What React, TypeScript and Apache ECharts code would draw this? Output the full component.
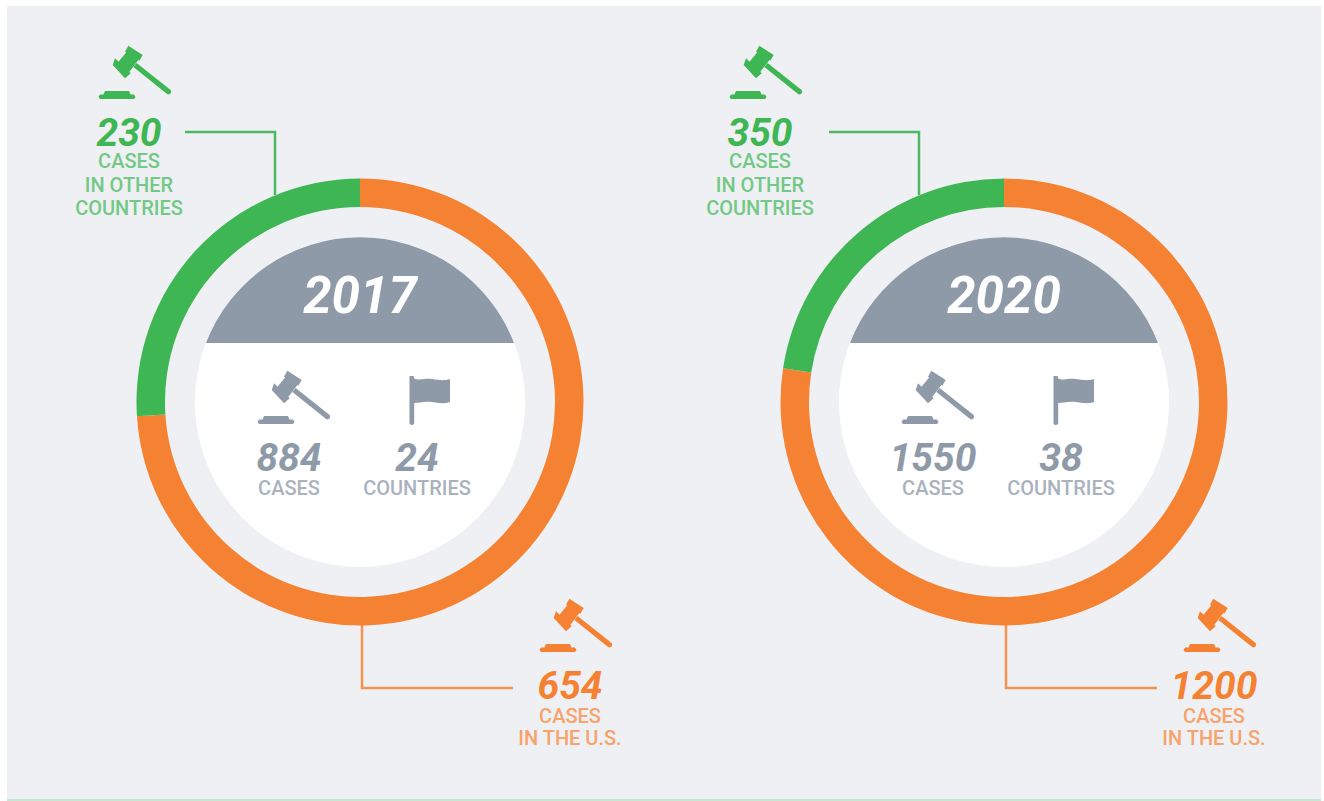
import React, { useEffect, useRef } from "react";
import * as echarts from "echarts";

const years = ["2017", "2020"];
const usCases = [654, 1200];
const otherCases = [230, 350];
const totalCases = [884, 1550];
const countries = [24, 38];
const seriesNames = ["Cases in the U.S.", "Cases in other countries"];
const otherLabelLines = ["CASES", "IN OTHER", "COUNTRIES"];
const usLabelLines = ["CASES", "IN THE U.S."];
const totalCaseLabel = "CASES";
const countriesLabel = "COUNTRIES";

const GREEN = "#3fb654";
const GREEN_LIGHT = "#72c985";
const GREEN_LINE = "#4db964";
const ORANGE = "#f58233";
const ORANGE_LIGHT = "#f6a36c";
const ORANGE_LINE = "#f6924f";
const GREY = "#8e9aa8";
const GREY_LIGHT = "#a9b2bd";
const PANEL = "#eff0f3";
const FONT = "Roboto, sans-serif";

const GAVEL =
  "M30.3 0.7 L44.7 10 L41.3 15.7 L27 6.7 Z " +
  "M28.7 6.7 L40.3 15 L30.3 28.3 L19.3 18.3 Z " +
  "M17 13.3 L32.7 28.3 L27 33.3 L14.7 20 Z " +
  "M38.6 17.9 L72 44.6 A2.6 2.6 0 0 1 68.8 48.8 L35.4 22.1 Z " +
  "M7 46 L31 46 L32.5 49.5 L36 49.5 L37.5 52 L36 54 L2 54 L0.5 52 L2 49.5 L5.5 49.5 Z";
const FLAG =
  "M1.5 0 L5.5 0 L6.2 2.5 C12 5 16 2 24 3 C31 4 36 5 42 3 L42 26 C36 28 30 27 24 26 C16 25 11 27 6.2 27 L6.2 47 C6.2 49.5 1.5 49.5 1.5 47 Z";
const CAP = "M0 106 A165 165 0 0 1 308 106 Z";

echarts.graphic.registerShape("gavelIcon", echarts.graphic.extendPath(GAVEL, {}) as any);
echarts.graphic.registerShape("flagIcon", echarts.graphic.extendPath(FLAG, {}) as any);
echarts.graphic.registerShape("capShape", echarts.graphic.extendPath(CAP, {}) as any);

function label(text: string, x: number, y: number, size: number, fill: string, bold = false) {
  return {
    type: "text",
    x,
    y,
    z: 6,
    silent: true,
    style: {
      text,
      fill,
      fontFamily: FONT,
      fontSize: size,
      fontWeight: bold ? 700 : 500,
      fontStyle: bold ? "italic" : "normal",
      align: "center",
      verticalAlign: "middle",
    },
  };
}

function icon(type: string, x: number, y: number, fill: string) {
  return { type, x, y, z: 6, silent: true, style: { fill } };
}

function leader(points: number[][], stroke: string) {
  return {
    type: "polyline",
    z: 1,
    silent: true,
    shape: { points },
    style: { stroke, lineWidth: 2.5, fill: "none" },
  };
}

function panelGraphics(i: number) {
  const dx = i * 644;
  const ldx = i * 631;
  const out: any[] = [
    { type: "circle", z: 4, silent: true, shape: { cx: 360 + dx, cy: 402, r: 165 }, style: { fill: "#ffffff" } },
    icon("capShape", 206 + dx, 237, GREY),
    label(years[i], 360 + dx, 295, 51, "#ffffff", true),
    icon("gavelIcon", 257 + dx, 370, GREY),
    icon("flagIcon", 408 + dx, 376, GREY),
    label(String(totalCases[i]), 289 + dx, 458, 39, GREY, true),
    label(totalCaseLabel, 289 + dx, 488, 20, GREY_LIGHT),
    label(String(countries[i]), 417 + dx, 458, 39, GREY, true),
    label(countriesLabel, 417 + dx, 488, 20, GREY_LIGHT),
    leader([[185 + dx, 132], [275 + dx, 132], [275 + dx, 195]], GREEN_LINE),
    leader([[362 + dx, 620], [362 + dx, 688], [513 + dx, 688]], ORANGE_LINE),
    icon("gavelIcon", 98 + ldx, 45, GREEN),
    label(String(otherCases[i]), 129 + ldx, 133, 39, GREEN, true),
    icon("gavelIcon", 539 + dx, 598, ORANGE),
    label(String(usCases[i]), 570 + dx, 686, 39, ORANGE, true),
  ];
  otherLabelLines.forEach((t, k) => out.push(label(t, 129 + ldx, 161 + k * 23.5, 20, GREEN_LIGHT)));
  usLabelLines.forEach((t, k) => out.push(label(t, 570 + dx, 716 + k * 22, 20, ORANGE_LIGHT)));
  return out;
}

export default function App() {
  const ref = useRef<HTMLDivElement>(null);
  useEffect(() => {
    const chart = echarts.init(ref.current!, undefined, { renderer: "svg" });
    chart.setOption({
      animation: false,
      backgroundColor: "#ffffff",
      series: years.map((y, i) => ({
        type: "pie",
        name: y,
        z: 3,
        center: [360 + i * 644, 402],
        radius: [195, 223.5],
        startAngle: 90,
        clockwise: true,
        silent: true,
        label: { show: false },
        labelLine: { show: false },
        data: [
          { name: seriesNames[0], value: usCases[i], itemStyle: { color: ORANGE } },
          { name: seriesNames[1], value: otherCases[i], itemStyle: { color: GREEN } },
        ],
      })),
      graphic: [
        { type: "rect", z: 0, silent: true, shape: { x: 7, y: 6, width: 1314, height: 793 }, style: { fill: PANEL } },
        { type: "rect", z: 0, silent: true, shape: { x: 7, y: 799, width: 1314, height: 2 }, style: { fill: "#c4e9d0" } },
        ...years.flatMap((_, i) => panelGraphics(i)),
      ],
    });
    return () => chart.dispose();
  }, []);
  return <div ref={ref} style={{ position: "fixed", left: 0, top: 0, width: 1324, height: 801 }} />;
}
